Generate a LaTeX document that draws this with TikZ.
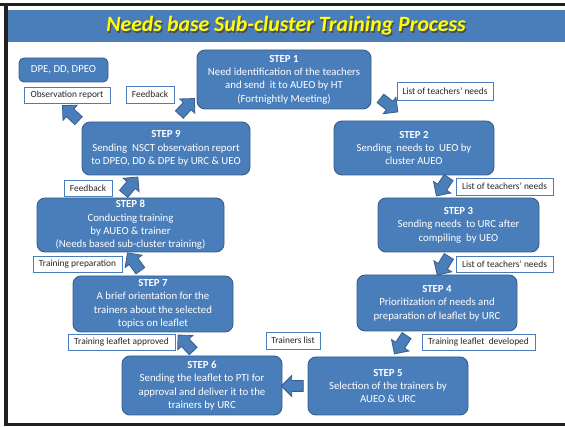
\documentclass[tikz,border=0pt]{standalone}
\usepackage{fontspec}
\setmainfont{Carlito}
\usepackage{tikz}
\usetikzlibrary{positioning}
\usetikzlibrary{shapes.arrows}
\definecolor{stepblue}{HTML}{4A7EBB}
\definecolor{stepedge}{HTML}{385D8A}
\definecolor{framegray}{HTML}{231F20}
\definecolor{titleyellow}{HTML}{FFFF00}

\tikzset{
  stepbox/.style={rectangle,rounded corners=8pt,fill=stepblue,draw=stepedge,line width=0.9pt,
    text=white,align=center,inner sep=1pt,font=\fontsize{10.8}{13.4}\selectfont},
  notebox/.style={rectangle,fill=white,draw=stepblue,line width=0.9pt,text=black!85,
    inner sep=1pt,font=\fontsize{9.4}{10}\selectfont},
  fatarrow/.style={single arrow,fill=stepblue,draw=stepedge,line width=0.8pt,
    inner xsep=0pt,inner ysep=5pt,single arrow head extend=5pt,minimum height=22pt,
    sloped,allow upside down,midway}
}

\begin{document}
\begin{tikzpicture}[x=1pt,y=-1pt]
  \useasboundingbox (0,0) rectangle (565,427);
  % frame and title bar
  \fill[framegray] (0,3) rectangle (565,6.5);
  \fill[framegray] (4,3) rectangle (7.5,426.5);
  \fill[framegray] (4,423) rectangle (565,426.5);
  \fill[stepblue] (7.5,10) rectangle (565,42);
  \node[text=black!70,font=\fontsize{21.8}{24}\bfseries\itshape\selectfont] (titleshade) at (287.3,27.3) {Needs base Sub-cluster Training Process};
  \node[text=titleyellow,font=\fontsize{21.8}{24}\bfseries\itshape\selectfont] (title) at (286,26) {Needs base Sub-cluster Training Process};

  % the nine steps
  \node[stepbox,minimum width=174pt,minimum height=59pt] (step1) at (284,79.5) {\textbf{STEP 1}\\Need identification of the teachers\\and send\ \ it to AUEO by HT\\(Fortnightly Meeting)};
  \node[stepbox,minimum width=160pt,minimum height=54pt] (step2) at (414,148) {\textbf{STEP 2}\\Sending\ \ needs to\ \ UEO by\\cluster AUEO};
  \node[stepbox,minimum width=161pt,minimum height=54pt] (step3) at (458.5,225) {\textbf{STEP 3}\\Sending needs\ \ to URC after\\compiling\ \ by UEO};
  \node[stepbox,minimum width=160pt,minimum height=56pt] (step4) at (437,303) {\textbf{STEP 4}\\Prioritization of needs and\\preparation of leaflet by URC};
  \node[stepbox,minimum width=160pt,minimum height=58pt] (step5) at (388,386) {\textbf{STEP 5}\\Selection of the trainers by\\AUEO \& URC};
  \node[stepbox,minimum width=160pt,minimum height=59pt] (step6) at (202,385.5) {\textbf{STEP 6}\\Sending the leaflet to PTI for\\approval and deliver it to the\\trainers by URC};
  \node[stepbox,minimum width=160pt,minimum height=56pt] (step7) at (153,304) {\textbf{STEP 7}\\A brief orientation for the\\trainers about the selected\\topics on leaflet};
  \node[stepbox,minimum width=187pt,minimum height=54pt] (step8) at (130.5,225) {\textbf{STEP 8}\\Conducting training\\by AUEO \& trainer\\(Needs based sub-cluster training)};
  \node[stepbox,minimum width=168pt,minimum height=53pt] (step9) at (166,148.5) {\textbf{STEP 9}\\Sending\ \ NSCT observation report\\to DPEO, DD \& DPE by URC \& UEO};
  \node[stepbox,rounded corners=5pt,minimum width=89pt,minimum height=24pt] (dpe) at (63.5,70) {DPE, DD, DPEO};

  % what is handed on
  \node[notebox,minimum width=86pt,minimum height=16pt] (obsreport) at (67,95) {Observation report};
  \node[notebox,minimum width=48pt,minimum height=17pt] (feedback1) at (150,94.5) {Feedback};
  \node[notebox,minimum width=96pt,minimum height=18pt] (needs1) at (445,91) {List of teachers' needs};
  \node[notebox,minimum width=97pt,minimum height=17pt] (needs2) at (504.5,186.5) {List of teachers' needs};
  \node[notebox,minimum width=97pt,minimum height=16pt] (needs3) at (504.5,264) {List of teachers' needs};
  \node[notebox,minimum width=113pt,minimum height=16pt] (developed) at (478.5,342) {Training leaflet\ \ developed};
  \node[notebox,minimum width=54pt,minimum height=17pt] (trainers) at (293,340.5) {Trainers list};
  \node[notebox,minimum width=107pt,minimum height=16pt] (approved) at (121.5,342) {Training leaflet approved};
  \node[notebox,minimum width=89pt,minimum height=16pt] (preparation) at (77.5,264) {Training preparation};
  \node[notebox,minimum width=48pt,minimum height=16pt] (feedback2) at (88,188) {Feedback};

  % block arrows, tail -> tip
  \coordinate (t12) at (376,95);  \coordinate (h12) at (398,112);
  \coordinate (t23) at (451,174); \coordinate (h23) at (437,195);
  \coordinate (t34) at (451,253); \coordinate (h34) at (438,274);
  \coordinate (t45) at (409,332); \coordinate (h45) at (395,353);
  \coordinate (t56) at (306,386); \coordinate (h56) at (284,386);
  \coordinate (t67) at (196,354); \coordinate (h67) at (179,336);
  \coordinate (t78) at (142,273); \coordinate (h78) at (129,255);
  \coordinate (t89) at (121,197); \coordinate (h89) at (137,178);
  \coordinate (t91) at (177,117); \coordinate (h91) at (193,100);
  \coordinate (t9o) at (81,123);  \coordinate (h9o) at (64,107);
  \foreach \a in {12,23,34,45,56,67,78,89,91,9o}
    \path (t\a) -- (h\a) node[fatarrow] {};
\end{tikzpicture}
\end{document}
